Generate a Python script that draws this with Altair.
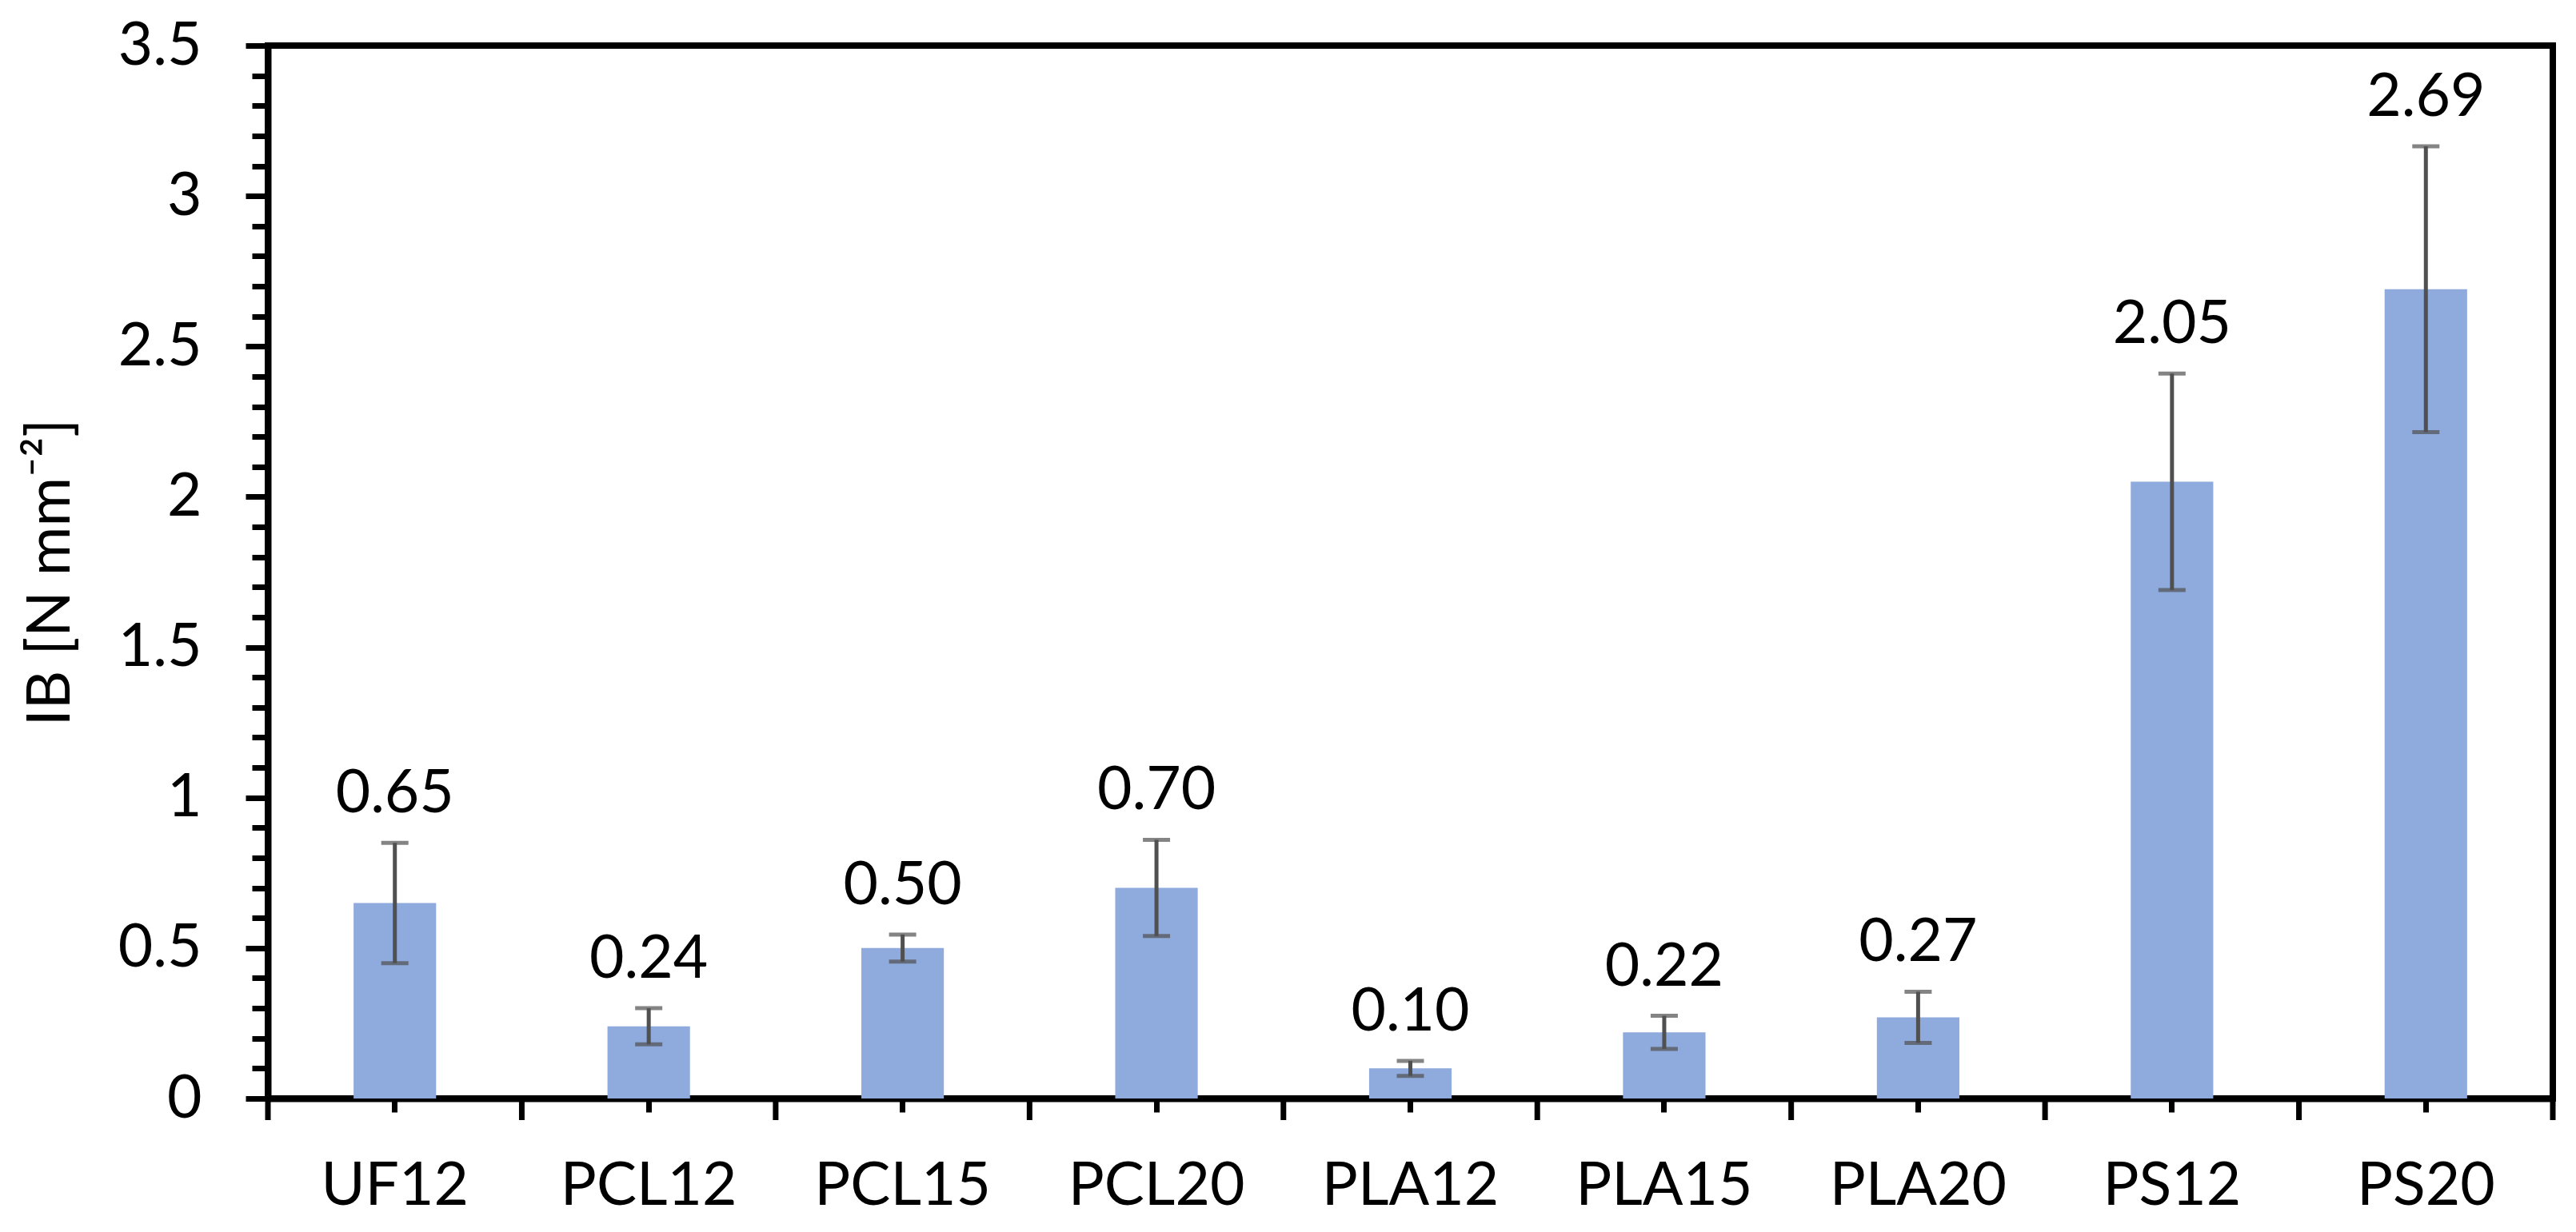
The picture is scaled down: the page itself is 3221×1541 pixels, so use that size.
import altair as alt
import pandas as pd

categories = ["UF12", "PCL12", "PCL15", "PCL20", "PLA12", "PLA15", "PLA20", "PS12", "PS20"]
means = [0.65, 0.24, 0.50, 0.70, 0.10, 0.22, 0.27, 2.05, 2.69]
errors = [0.20, 0.06, 0.045, 0.16, 0.025, 0.055, 0.085, 0.36, 0.475]
y_ticks = [0.0, 0.1, 0.2, 0.3, 0.4, 0.5, 0.6, 0.7, 0.8, 0.9, 1.0, 1.1, 1.2, 1.3, 1.4, 1.5,
           1.6, 1.7, 1.8, 1.9, 2.0, 2.1, 2.2, 2.3, 2.4, 2.5, 2.6, 2.7, 2.8, 2.9, 3.0, 3.1,
           3.2, 3.3, 3.4, 3.5]
boundaries = [0, 1, 2, 3, 4, 5, 6, 7, 8, 9]
y_title = "IB [N mm\u207B\u00B2]"

df = pd.DataFrame({"cat": categories, "mean": means, "err": errors})
df["lo"] = df["mean"] - df["err"]
df["hi"] = df["mean"] + df["err"]
bdf = pd.DataFrame({"b": boundaries})

W = 2857
H = 1317
FONT = "Lato, sans-serif"
FS = 75

major = "abs(datum.value*2 - round(datum.value*2)) < 0.001"

x_axis = alt.Axis(title=None, labelAngle=0, tickSize=17, tickWidth=7,
                  tickColor="black", domainColor="black", domainWidth=8,
                  labelPadding=56, labelFontSize=FS, labelFont=FONT,
                  labelColor="black", labelLimit=0)
x_scale = alt.Scale(paddingInner=0.675, paddingOuter=0.3375)

y_scale = alt.Scale(domain=[0, 3.5], nice=False)

y_axis = alt.Axis(values=y_ticks, grid=False,
                  labelExpr=f"{major} ? format(datum.value, '~g') : ''",
                  tickSize={"condition": {"test": major, "value": 28}, "value": 20},
                  tickWidth=7, tickColor="black", domainColor="black", domainWidth=8,
                  labelPadding=55, labelFontSize=FS, labelFont=FONT, labelColor="black",
                  labelOverlap=False, labelFlush=False,
                  title=y_title, titleFont=FONT, titleFontSize=FS, titleFontWeight="normal",
                  titleColor="black", titleAngle=-90, titleX=-272, titleY=H / 2,
                  titleAlign="center", titleBaseline="middle")


def xe():
    return alt.X("cat:N", sort=categories, scale=x_scale, axis=x_axis)


def ye(field):
    return alt.Y(field, scale=y_scale, axis=y_axis)


base = alt.Chart(df)

bars = base.mark_bar(color="#8FAADC").encode(x=xe(), y=ye("mean:Q"))

stems = base.mark_rule(color="#505050", strokeWidth=5).encode(
    x=xe(), y=ye("lo:Q"), y2="hi:Q")

cap_hi = base.mark_tick(color="#505050", size=34, thickness=5, orient="horizontal").encode(
    x=xe(), y=ye("hi:Q"))
cap_lo = base.mark_tick(color="#505050", size=34, thickness=5, orient="horizontal").encode(
    x=xe(), y=ye("lo:Q"))

labels = base.mark_text(font=FONT, fontSize=FS, color="black", baseline="alphabetic",
                        align="center", dy=-38).encode(
    x=xe(), y=ye("hi:Q"), text=alt.Text("mean:Q", format=".2f"))

main = alt.layer(bars, stems, cap_hi, cap_lo, labels)

bticks = alt.Chart(bdf).mark_rule(color="black", strokeWidth=7).encode(
    x=alt.X("b:Q", scale=alt.Scale(domain=[0, 9], nice=False, zero=False), axis=None),
    y=alt.value(H),
    y2=alt.value(H + 27),
)

chart = alt.layer(main, bticks).resolve_scale(x="independent").properties(
    width=W, height=H,
    autosize=alt.AutoSizeParams(type="none"),
    padding={"left": 327, "top": 49, "right": 14, "bottom": 158},
).configure(background="white").configure_view(stroke="black", strokeWidth=8)

chart.save("out.html", embed_options={"renderer": "svg", "actions": False})
